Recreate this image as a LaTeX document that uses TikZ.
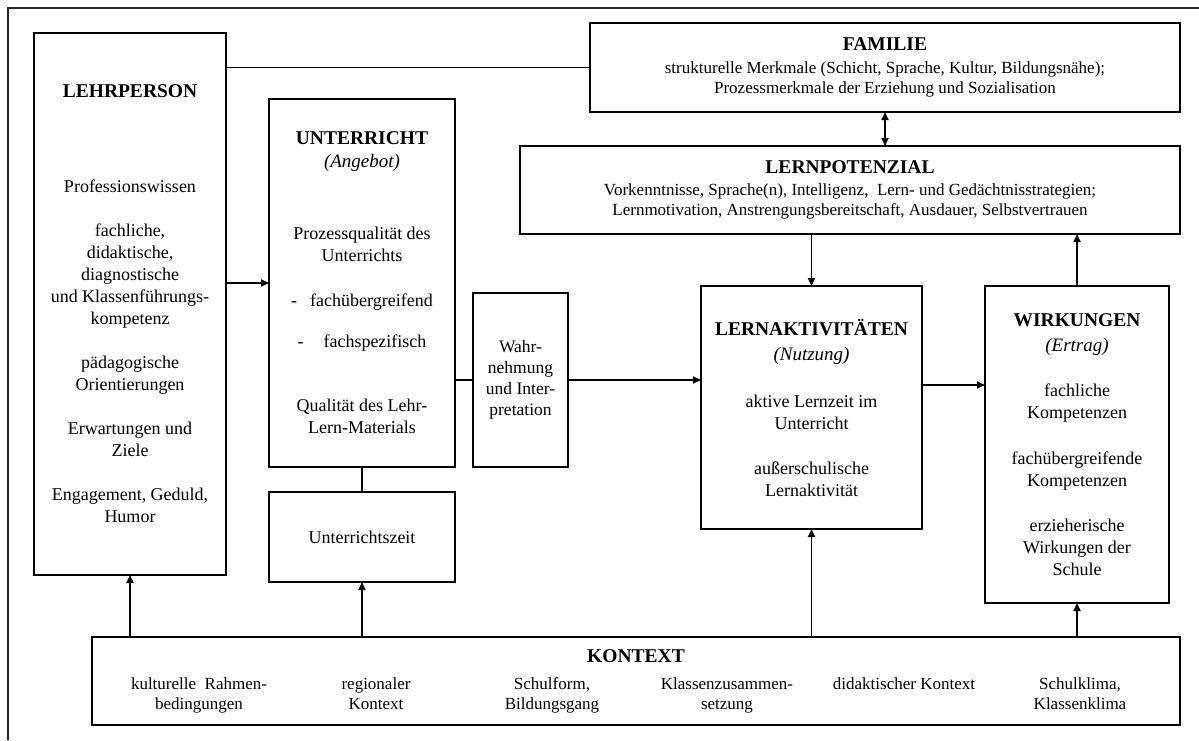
\documentclass[tikz,border=0pt]{standalone}
\usepackage{fontspec}
\setmainfont{Liberation Serif}
\usepackage{tikz}
\usetikzlibrary{arrows.meta,positioning}
\newcommand{\bodysize}{\fontsize{18}{22}\selectfont}
\newcommand{\smallsize}{\fontsize{17}{20}\selectfont}
\newcommand{\boxhead}[1]{{\fontsize{19.5}{22}\selectfont\bfseries #1}}
\newcommand{\boxsub}[1]{{\fontsize{19}{22}\selectfont\itshape #1}}
\tikzset{
    blockbox/.style={
        draw,
        line width=2pt,
        align=center,
        font=\bodysize,
        inner sep=0pt,
        outer sep=0pt
    },
    widebox/.style={
        blockbox,
        font=\smallsize
    },
    kontextitem/.style={
        align=center,
        font=\smallsize,
        inner sep=0pt,
        anchor=north
    },
    effect/.style={
        -{Triangle[length=8pt,width=7pt]},
        line width=1.8pt
    },
    mutual/.style={
        {Triangle[length=8pt,width=7pt]}-{Triangle[length=8pt,width=7pt]},
        line width=1.8pt
    },
    plainlink/.style={
        line width=1.8pt
    },
    frameline/.style={
        line width=1.2pt,
        black!85
    }
}

\begin{document}
\begin{tikzpicture}[x=1pt, y=-1pt]
        \useasboundingbox (0,0) rectangle (1199,740);
        \draw[frameline] (1199,8) -- (8,8) -- (8,740);

        \node[blockbox, minimum width=192pt, minimum height=542pt] (lehr) at (130,304) {
            \boxhead{LEHRPERSON}\\[73pt]
            Professionswissen\\[22pt]
            fachliche,\\
            didaktische,\\
            diagnostische\\
            und Klassenführungs-\\
            kompetenz\\[22pt]
            pädagogische\\
            Orientierungen\\[22pt]
            Erwartungen und\\
            Ziele\\[22pt]
            Engagement, Geduld,\\
            Humor
        };

        \node[blockbox, minimum width=186pt, minimum height=368pt] (unt) at (362,283) {
            \boxhead{UNTERRICHT}\\[1pt]
            \boxsub{(Angebot)}\\[50pt]
            Prozessqualität des\\
            Unterrichts\\[23pt]
            -\hspace{13pt}fachübergreifend\\[19pt]
            -\hspace{20pt}fachspezifisch\\[42pt]
            Qualität des Lehr-\\
            Lern-Materials
        };

        \node[blockbox, minimum width=186pt, minimum height=90pt, below=25pt of unt] (zeit) {Unterrichtszeit};

        \node[blockbox, font=\fontsize{17.5}{21}\selectfont, minimum width=95pt, minimum height=174pt] (wahr) at (520.5,380) {
            Wahr-\\
            nehmung\\
            und Inter-\\
            pretation
        };

        \node[blockbox, minimum width=221pt, minimum height=243pt] (akt) at (811.5,407.5) {
            \boxhead{LERNAKTIVITÄTEN}\\[3pt]
            \boxsub{(Nutzung)}\\[25pt]
            aktive Lernzeit im\\
            Unterricht\\[23pt]
            außerschulische\\
            Lernaktivität
        };

        \node[blockbox, minimum width=184pt, minimum height=317pt] (wirk) at (1077,444.5) {
            \boxhead{WIRKUNGEN}\\[3pt]
            \boxsub{(Ertrag)}\\[23pt]
            fachliche\\
            Kompetenzen\\[24pt]
            fachübergreifende\\
            Kompetenzen\\[23pt]
            erzieherische\\
            Wirkungen der\\
            Schule
        };

        \node[widebox, minimum width=590pt, minimum height=89pt] (fam) at (885,67.5) {
            \boxhead{FAMILIE}\\[3pt]
            strukturelle Merkmale (Schicht, Sprache, Kultur, Bildungsnähe);\\
            Prozessmerkmale der Erziehung und Sozialisation
        };

        \node[widebox, minimum width=660pt, minimum height=88pt] (pot) at (850,190) {
            \boxhead{LERNPOTENZIAL}\\[2pt]
            Vorkenntnisse, Sprache(n), Intelligenz,\ \ Lern- und Gedächtnisstrategien;\\
            Lernmotivation, Anstrengungsbereitschaft, Ausdauer, Selbstvertrauen
        };

        \node[widebox, minimum width=1088pt, minimum height=88pt] (kon) at (636,681) {};
        \node[anchor=base, inner sep=0pt] (kontitle) at (636,662) {\boxhead{KONTEXT}};
        \node[kontextitem] (kultur) at (199,677) {kulturelle\ \ Rahmen-\\ bedingungen};
        \node[kontextitem] (region) at (376,677) {regionaler\\ Kontext};
        \node[kontextitem] (schulform) at (552,677) {Schulform,\\ Bildungsgang};
        \node[kontextitem] (klasse) at (727,677) {Klassenzusammen-\\ setzung};
        \node[kontextitem] (didaktik) at (904,677) {didaktischer Kontext};
        \node[kontextitem] (klima) at (1080,677) {Schulklima,\\ Klassenklima};

        \draw[plainlink] (lehr.east |- fam.west) -- (fam.west);
        \draw[effect] (lehr.east |- unt.west) -- (unt.west);
        \draw[plainlink] (unt.south) -- (zeit.north);
        \draw[plainlink] (unt.east |- wahr.west) -- (wahr.west);
        \draw[effect] (wahr.east) -- (akt.west |- wahr.east);
        \coordinate (aktout) at ([yshift=22.5pt]akt.east);
        \draw[effect] (aktout) -- (aktout -| wirk.west);
        \draw[mutual] (fam.south) -- (fam.south |- pot.north);
        \draw[effect] (akt.north |- pot.south) -- (akt.north);
        \draw[effect] (wirk.north) -- (wirk.north |- pot.south);

        \draw[effect] (kon.north -| lehr.south) -- (lehr.south);
        \draw[effect] (kon.north -| zeit.south) -- (zeit.south);
        \draw[effect] (kon.north -| akt.south) -- (akt.south);
        \draw[effect] (kon.north -| wirk.south) -- (wirk.south);
    \end{tikzpicture}
\end{document}
